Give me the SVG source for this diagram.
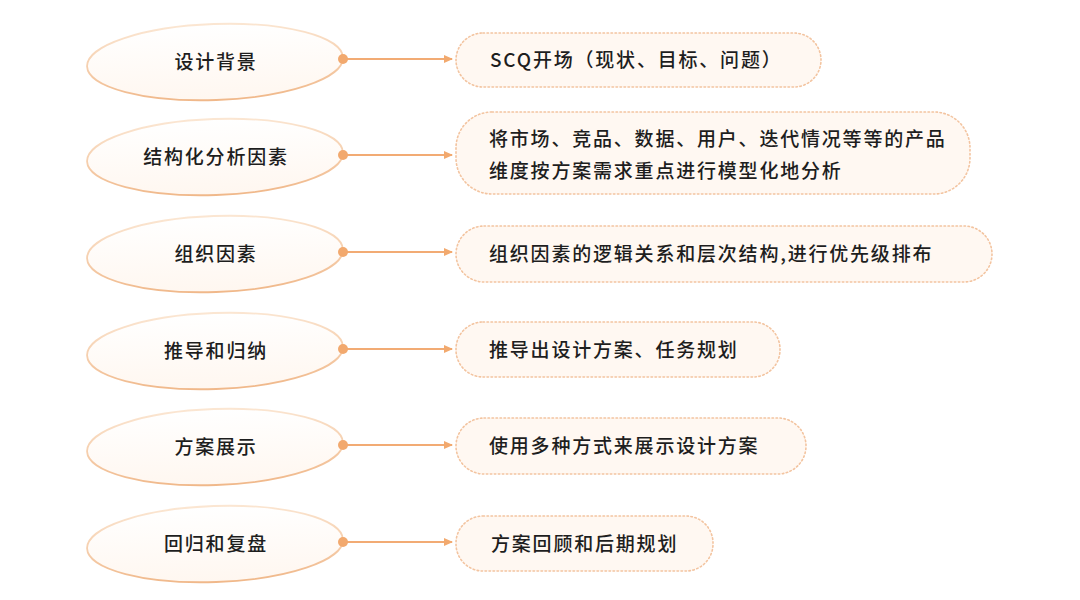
<svg xmlns="http://www.w3.org/2000/svg" width="1080" height="600" viewBox="0 0 1080 600">
<defs>
<linearGradient id="eg" x1="0" y1="0" x2="0" y2="1">
<stop offset="0" stop-color="#fbe6d2"/>
<stop offset="1" stop-color="#f0b88a"/>
</linearGradient>
<linearGradient id="ef" x1="0" y1="0" x2="0" y2="1">
<stop offset="0" stop-color="#ffffff"/>
<stop offset="1" stop-color="#fff7f0"/>
</linearGradient>
<marker id="ah" markerWidth="10" markerHeight="10" refX="8" refY="5" orient="auto" markerUnits="userSpaceOnUse">
<path d="M0,1 L9,5 L0,9 Z" fill="#f2a96e"/>
</marker>
</defs>
<style>
.ell{fill:url(#ef);stroke:url(#eg);stroke-width:1.8}
.box{fill:#fff8f2;stroke:#f3c4a0;stroke-width:1.6;stroke-dasharray:1.5 2.5;stroke-linecap:round}
.t{font-family:"Noto Sans CJK SC","Noto Sans",sans-serif;font-size:19px;font-weight:500;letter-spacing:1.8px;fill:#1e1e1e}
.c{text-anchor:middle}
.ln{stroke:#f2ab74;stroke-width:2;fill:none}
.dot{fill:#f2a96e}
</style>
<rect width="1080" height="600" fill="#ffffff"/>

<g id="n1"><ellipse class="ell" cx="215" cy="62" rx="128" ry="38" transform="rotate(-2 215 62)"/><text class="t c" x="216" y="69">设计背景</text></g>
<g id="n2"><ellipse class="ell" cx="215" cy="157" rx="128" ry="38" transform="rotate(-2 215 157)"/><text class="t c" x="216" y="164">结构化分析因素</text></g>
<g id="n3"><ellipse class="ell" cx="215" cy="254" rx="128" ry="38" transform="rotate(-2 215 254)"/><text class="t c" x="216" y="261">组织因素</text></g>
<g id="n4"><ellipse class="ell" cx="215" cy="351" rx="128" ry="38" transform="rotate(-2 215 351)"/><text class="t c" x="216" y="358">推导和归纳</text></g>
<g id="n5"><ellipse class="ell" cx="215" cy="447" rx="128" ry="38" transform="rotate(-2 215 447)"/><text class="t c" x="216" y="454">方案展示</text></g>
<g id="n6"><ellipse class="ell" cx="215" cy="544" rx="128" ry="38" transform="rotate(-2 215 544)"/><text class="t c" x="216" y="551">回归和复盘</text></g>

<g id="b1"><rect class="box" x="456" y="33" width="365" height="54" rx="27"/><text class="t" x="490" y="67">SCQ开场（现状、目标、问题）</text></g>
<g id="b2"><rect class="box" x="456" y="112" width="514" height="82" rx="36"/><text class="t" x="489" y="146">将市场、竞品、数据、用户、迭代情况等等的产品</text><text class="t" x="489" y="178">维度按方案需求重点进行模型化地分析</text></g>
<g id="b3"><rect class="box" x="456" y="226" width="536" height="56" rx="28"/><text class="t" x="489" y="261">组织因素的逻辑关系和层次结构,进行优先级排布</text></g>
<g id="b4"><rect class="box" x="456" y="322" width="324" height="55" rx="27"/><text class="t" x="489" y="357">推导出设计方案、任务规划</text></g>
<g id="b5"><rect class="box" x="456" y="418" width="350" height="56" rx="28"/><text class="t" x="489" y="453">使用多种方式来展示设计方案</text></g>
<g id="b6"><rect class="box" x="456" y="516" width="257" height="55" rx="27"/><text class="t" x="491" y="551">方案回顾和后期规划</text></g>

<g id="connectors">
<line class="ln" x1="343" y1="59" x2="452" y2="59" marker-end="url(#ah)"/><circle class="dot" cx="343" cy="59" r="5"/>
<line class="ln" x1="343" y1="155" x2="452" y2="155" marker-end="url(#ah)"/><circle class="dot" cx="343" cy="155" r="5"/>
<line class="ln" x1="343" y1="252" x2="452" y2="252" marker-end="url(#ah)"/><circle class="dot" cx="343" cy="252" r="5"/>
<line class="ln" x1="343" y1="349" x2="452" y2="349" marker-end="url(#ah)"/><circle class="dot" cx="343" cy="349" r="5"/>
<line class="ln" x1="343" y1="445" x2="452" y2="445" marker-end="url(#ah)"/><circle class="dot" cx="343" cy="445" r="5"/>
<line class="ln" x1="343" y1="542" x2="452" y2="542" marker-end="url(#ah)"/><circle class="dot" cx="343" cy="542" r="5"/>
</g>
</svg>
